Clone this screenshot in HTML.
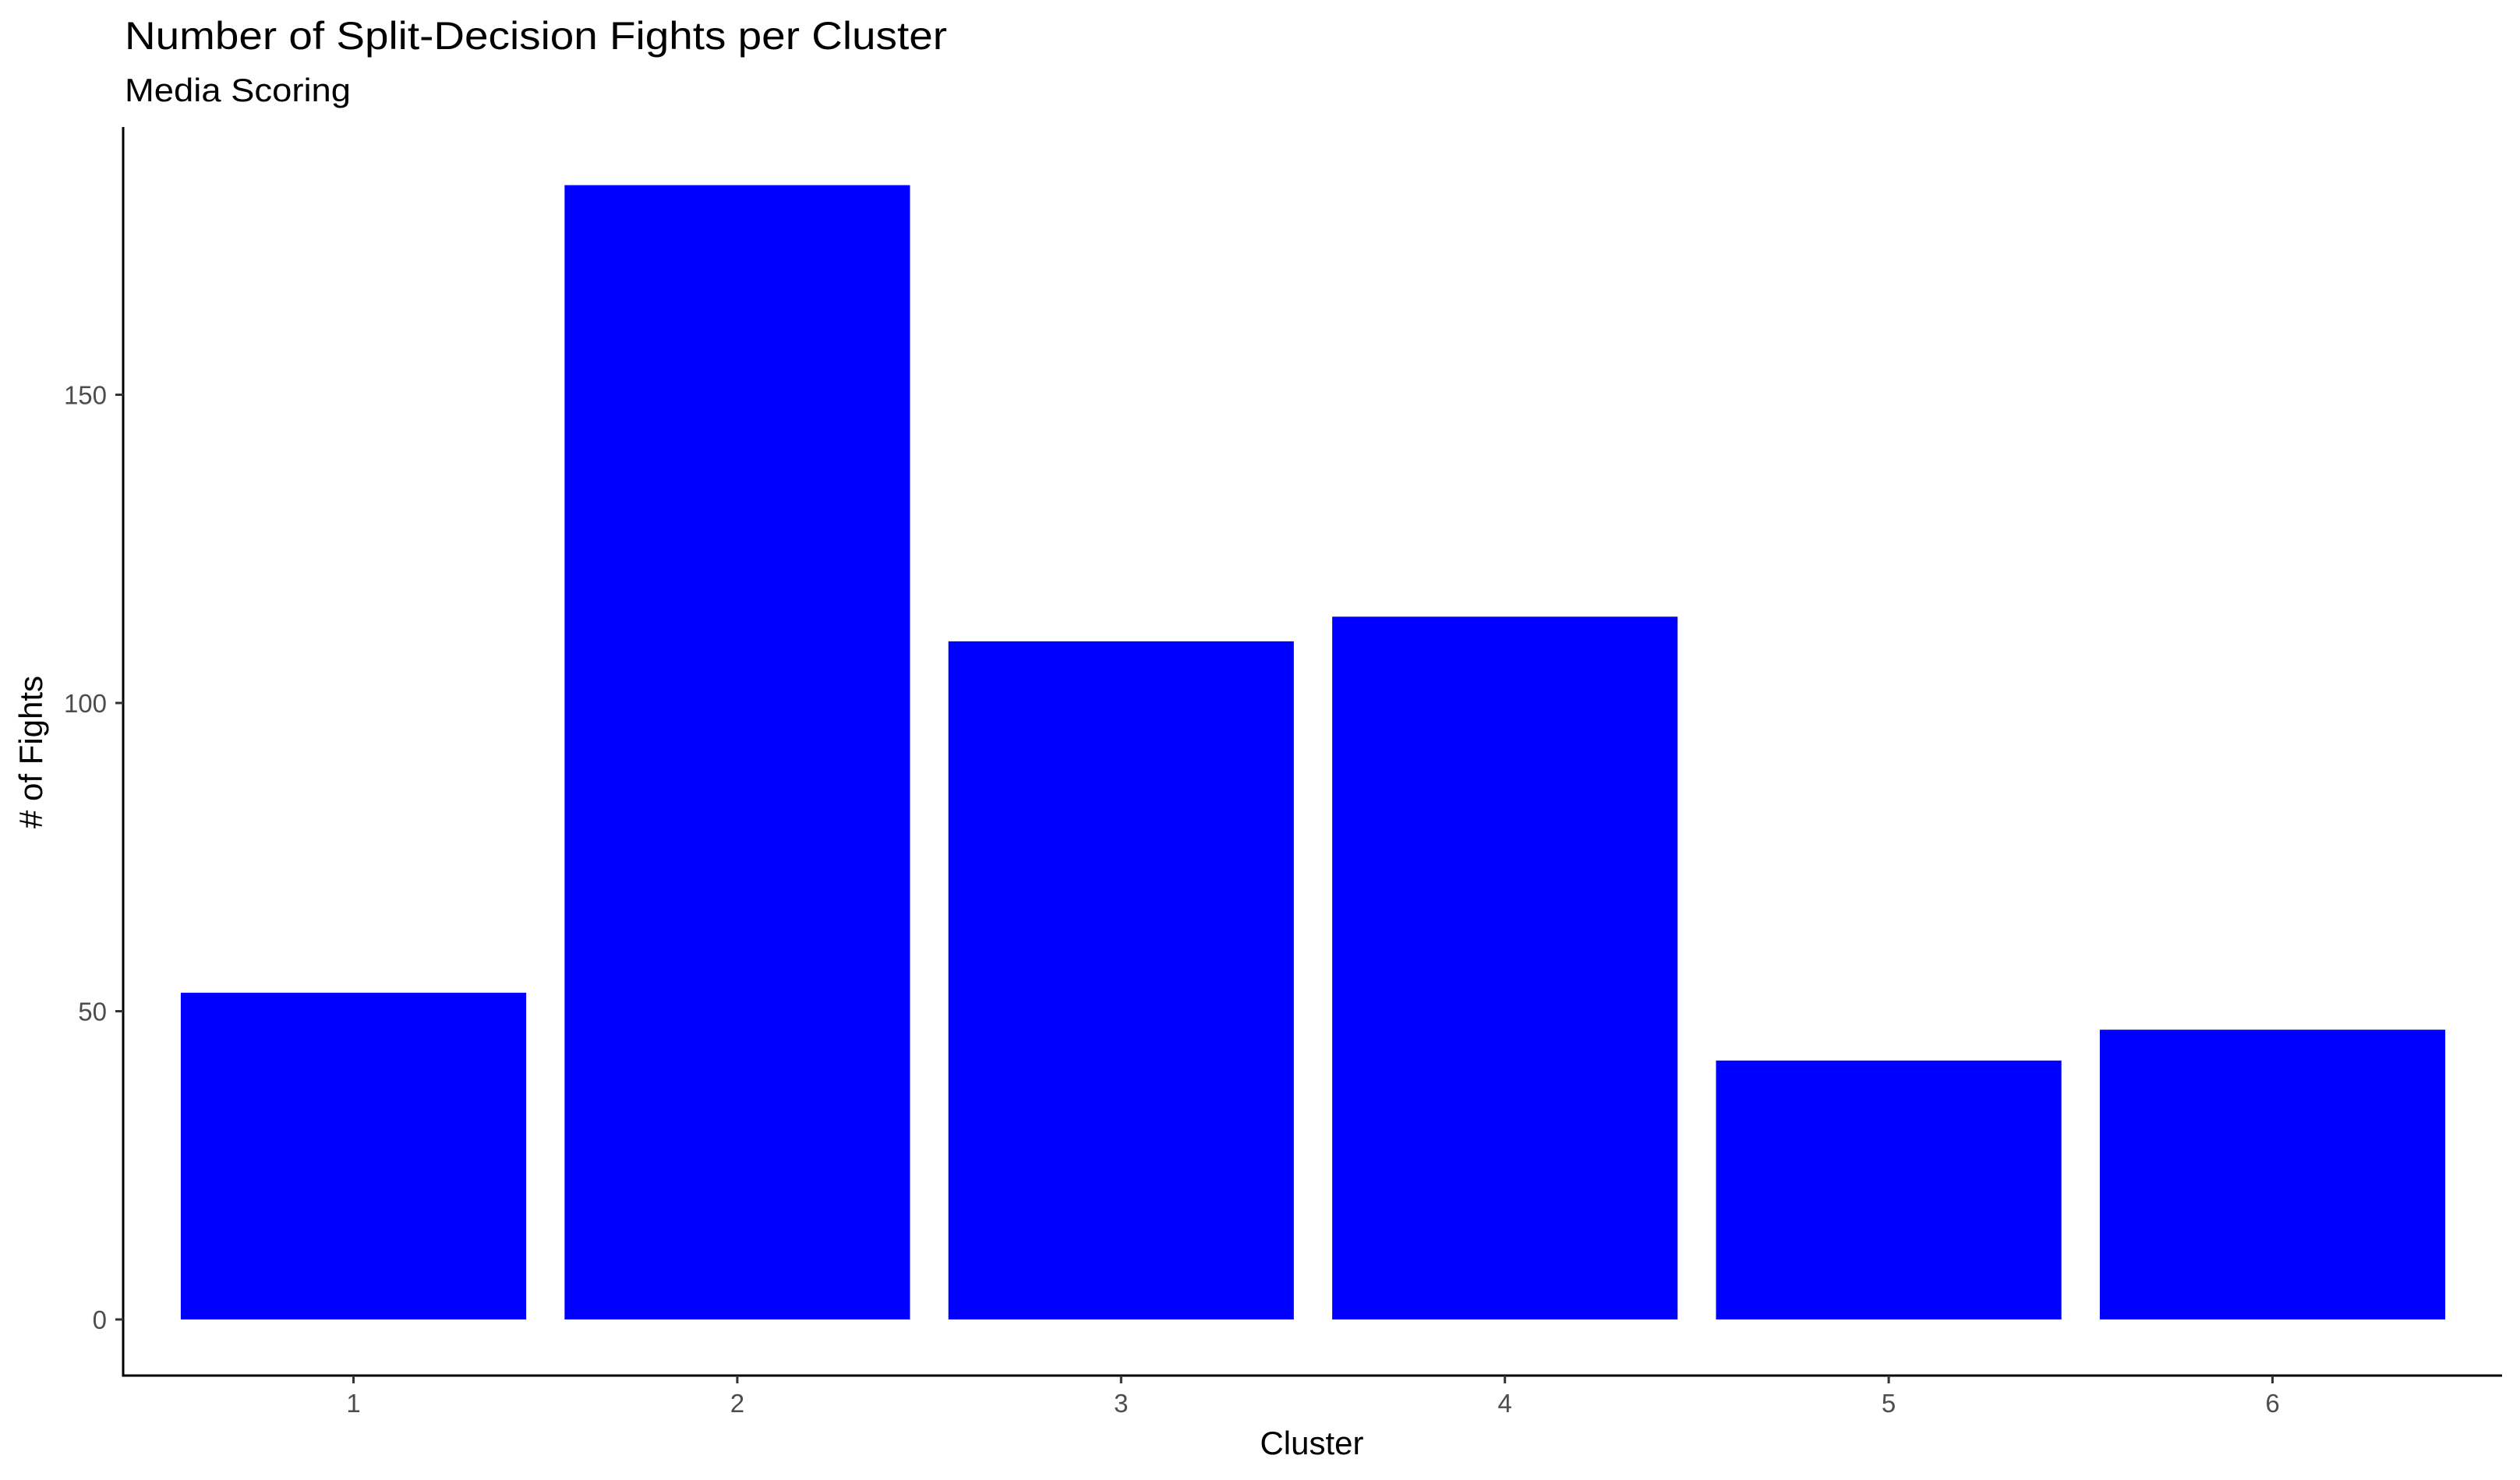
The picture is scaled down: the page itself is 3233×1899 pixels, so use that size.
<!DOCTYPE html>
<html><head><meta charset="utf-8">
<style>
html,body{margin:0;padding:0;background:#fff;}
svg{display:block;font-family:"Liberation Sans",Arial,sans-serif;}
</style></head>
<body>
<svg id="chart" width="3233" height="1899" viewBox="0 0 3233 1899">
  <text x="160" y="63" font-size="50" fill="#000" textLength="1055" lengthAdjust="spacingAndGlyphs">Number of Split-Decision Fights per Cluster</text>
  <text x="160" y="130" font-size="42" fill="#000" textLength="290" lengthAdjust="spacingAndGlyphs">Media Scoring</text>
  <g id="bars"></g>
  <g id="yaxis"></g>
  <g id="xaxis"></g>
  <text x="1683" y="1866" font-size="42" text-anchor="middle" fill="#000">Cluster</text>
  <text x="0" y="0" font-size="42" text-anchor="middle" fill="#000" transform="translate(54,965) rotate(-90)"># of Fights</text>
</svg>
<script>
const categories = ["1","2","3","4","5","6"];
const values = [53, 184, 110, 114, 42, 47];
const yTicks = [0, 50, 100, 150];
const yTickLabels = ["0","50","100","150"];

const NS = "http://www.w3.org/2000/svg";
const axisLeft = 158, axisRight = 3210, axisTop = 163, axisBottom = 1765;
const y0px = 1693, pxPerUnit = 7.91;
const firstTick = 453.5, step = 492.4, barW = 0.9 * step;
function yScale(v){ return y0px - v * pxPerUnit; }
function xScale(i){ return firstTick + i * step; }

const bars = document.getElementById('bars');
values.forEach((v, i) => {
  const r = document.createElementNS(NS, 'rect');
  r.setAttribute('x', xScale(i) - barW / 2);
  r.setAttribute('y', yScale(v));
  r.setAttribute('width', barW);
  r.setAttribute('height', yScale(0) - yScale(v));
  r.setAttribute('fill', '#0000ff');
  
  
  bars.appendChild(r);
});

const ya = document.getElementById('yaxis');
const yl = document.createElementNS(NS, 'line');
yl.setAttribute('x1', axisLeft); yl.setAttribute('x2', axisLeft);
yl.setAttribute('y1', axisTop); yl.setAttribute('y2', axisBottom + 1.5);
yl.setAttribute('stroke', '#000'); yl.setAttribute('stroke-width', 3);


ya.appendChild(yl);
yTicks.forEach((t, i) => {
  const tk = document.createElementNS(NS, 'line');
  tk.setAttribute('x1', axisLeft - 10); tk.setAttribute('x2', axisLeft);
  tk.setAttribute('y1', yScale(t)); tk.setAttribute('y2', yScale(t));
  tk.setAttribute('stroke', '#333'); tk.setAttribute('stroke-width', 3);
  
  
  ya.appendChild(tk);
  const lb = document.createElementNS(NS, 'text');
  lb.setAttribute('x', 137); lb.setAttribute('y', yScale(t) + 12);
  lb.setAttribute('text-anchor', 'end'); lb.setAttribute('font-size', 33);
  lb.setAttribute('fill', '#4d4d4d');
  lb.textContent = yTickLabels[i];
  
  
  ya.appendChild(lb);
});

const xa = document.getElementById('xaxis');
const xl = document.createElementNS(NS, 'line');
xl.setAttribute('x1', axisLeft - 1.5); xl.setAttribute('x2', axisRight);
xl.setAttribute('y1', axisBottom); xl.setAttribute('y2', axisBottom);
xl.setAttribute('stroke', '#000'); xl.setAttribute('stroke-width', 3);


xa.appendChild(xl);
categories.forEach((c, i) => {
  const tk = document.createElementNS(NS, 'line');
  tk.setAttribute('x1', xScale(i)); tk.setAttribute('x2', xScale(i));
  tk.setAttribute('y1', axisBottom); tk.setAttribute('y2', axisBottom + 10);
  tk.setAttribute('stroke', '#333'); tk.setAttribute('stroke-width', 3);
  
  
  xa.appendChild(tk);
  const lb = document.createElementNS(NS, 'text');
  lb.setAttribute('x', xScale(i)); lb.setAttribute('y', 1812);
  lb.setAttribute('text-anchor', 'middle'); lb.setAttribute('font-size', 33);
  lb.setAttribute('fill', '#4d4d4d');
  lb.textContent = c;
  
  
  xa.appendChild(lb);
});
</script>
</body></html>
